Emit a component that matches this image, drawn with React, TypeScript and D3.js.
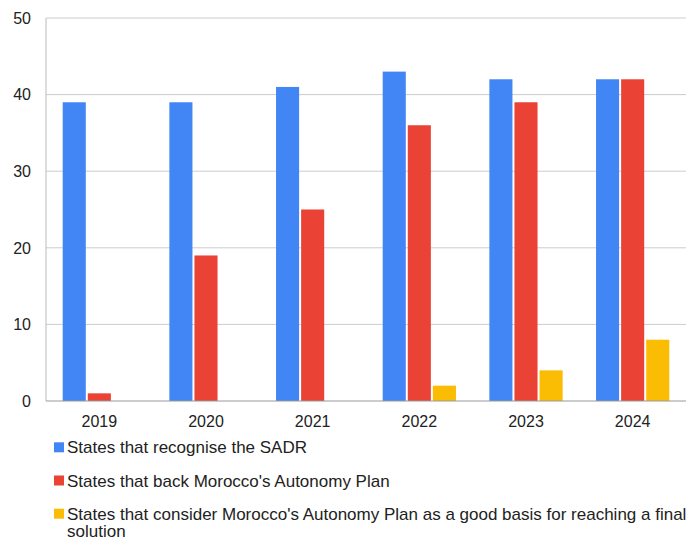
import React from "react";
import * as d3 from "d3";

const years = ["2019", "2020", "2021", "2022", "2023", "2024"];
const sadr = [39, 39, 41, 43, 42, 42];
const backPlan = [1, 19, 25, 36, 39, 42];
const goodBasis = [0, 0, 0, 2, 4, 8];
const yTicks = [0, 10, 20, 30, 40, 50];
const seriesNames = [
  "States that recognise the SADR",
  "States that back Morocco's Autonomy Plan",
  "States that consider Morocco's Autonomy Plan as a good basis for reaching a final",
];
const colors = ["#4285F4", "#EA4335", "#FBBC04"];

export default function App() {
  const W = 692, H = 541;
  const left = 46, right = 686, top = 18, bottom = 401;
  const x = d3.scaleBand().domain(years).range([left, right]).paddingInner(0.3132).paddingOuter(0.1566);
  const y = d3.scaleLinear().domain([0, 50]).range([bottom, top]);
  const series = [sadr, backPlan, goodBasis];
  const inner = d3.scaleBand().domain(["0", "1", "2"]).range([0, x.bandwidth()]).paddingInner(0.08);
  const font = "Liberation Sans, Arial, sans-serif";
  const legendBase = [453.3, 486.5, 519.7];
  return (
    <svg width={W} height={H} style={{ position: "absolute", left: 0, top: 0 }} fontFamily={font}>
      <rect width={W} height={H} fill="#fff" />
      {yTicks.map((t) => (
        <g key={t}>
          {t > 0 && <line x1={left} x2={right} y1={y(t)} y2={y(t)} stroke="#ccc" strokeWidth={1} />}
          <text x={31} y={y(t)} dy="0.36em" textAnchor="end" fontSize={16} fill="#222">{t}</text>
        </g>
      ))}
      {series.map((s, si) =>
        s.map((v, i) =>
          v > 0 ? (
            <rect key={si + "-" + i} x={(x(years[i]) as number) + (inner(String(si)) as number)} y={y(v)} width={inner.bandwidth()} height={y(0) - y(v)} fill={colors[si]} />
          ) : null
        )
      )}
      <line x1={left} x2={left} y1={top} y2={bottom} stroke="#bbb" strokeWidth={1} />
      <line x1={left} x2={right} y1={bottom} y2={bottom} stroke="#999" strokeWidth={1} />
      {years.map((yr) => (
        <text key={yr} x={(x(yr) as number) + x.bandwidth() / 2} y={427} textAnchor="middle" fontSize={16} fill="#222">{yr}</text>
      ))}
      {seriesNames.map((n, i) => (
        <g key={n}>
          <rect x={54} y={legendBase[i] - 11} width={10} height={10} fill={colors[i]} />
          <text x={67} y={legendBase[i]} fontSize={17} fill="#222">{n}</text>
        </g>
      ))}
      <text x={67} y={537} fontSize={17} fill="#222">solution</text>
    </svg>
  );
}
